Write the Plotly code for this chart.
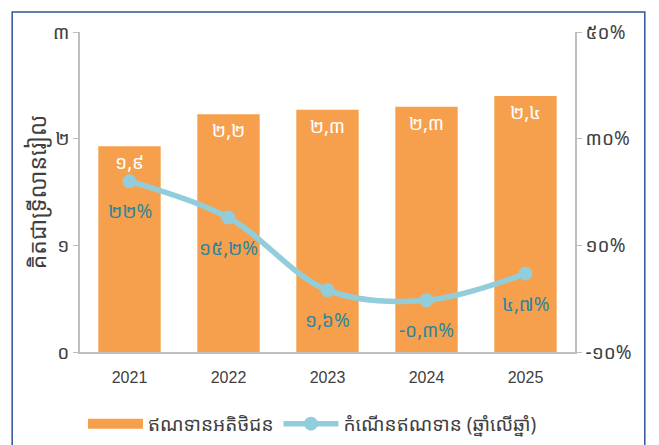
import plotly.graph_objects as go

years = [2021, 2022, 2023, 2024, 2025]
year_labels = ["2021", "2022", "2023", "2024", "2025"]
credit = [1.93, 2.23, 2.27, 2.30, 2.40]
credit_labels = ["១,៩", "២,២", "២,៣", "២,៣", "២,៤"]
growth = [22.0, 15.2, 1.6, -0.3, 4.7]
growth_labels = ["២២%", "១៥,២%", "១,៦%", "-០,៣%", "៤,៧%"]
left_ticks = [0, 1, 2, 3]
left_ticktext = ["០", "១", "២", "៣"]
right_ticks = [-10, 10, 30, 50]
right_ticktext = ["-១០%", "១០%", "៣០%", "៥០%"]

KH = "Noto Sans Khmer, Khmer OS, Khmer OS System, Noto Sans, sans-serif"
bar_color = "#F6A04D"
line_color = "#92CDDC"
label_color = "#31849B"
axis_color = "#BFBFBF"
text_color = "#404040"

fig = go.Figure()
fig.add_trace(go.Bar(
    x=years, y=credit, name="ឥណទានអតិថិជន", showlegend=False,
    marker=dict(color=bar_color, line=dict(width=0)),
    text=credit_labels, textposition="inside", insidetextanchor="end",
    textfont=dict(color="white", size=19, family=KH),
    width=0.63, yaxis="y",
))
# legend swatch for the bars (wide rectangle like the reference)
fig.add_trace(go.Scatter(
    x=[None], y=[None], name="ឥណទានអតិថិជន", mode="lines",
    line=dict(color=bar_color, width=16), yaxis="y",
))
fig.add_trace(go.Scatter(
    x=years, y=growth, name="កំណើនឥណទាន (ឆ្នាំលើឆ្នាំ)",
    mode="lines+markers", yaxis="y2",
    line=dict(color=line_color, width=5.5, shape="spline", smoothing=1),
    marker=dict(color=line_color, size=14),
))
for x, y, t in zip(years, growth, growth_labels):
    fig.add_annotation(x=x, y=y, xref="x", yref="y2", text=t, showarrow=False,
                       yshift=-30, font=dict(color=label_color, size=19, family=KH))

fig.update_layout(
    width=659, height=445,
    margin=dict(l=72, r=92, t=24, b=101, autoexpand=False),
    plot_bgcolor="white", paper_bgcolor="white",
    showlegend=True,
    legend=dict(orientation="h", x=0.006, xanchor="left", y=-0.165, yanchor="top",
                itemwidth=55,
                font=dict(size=19, family=KH, color=text_color)),
    xaxis=dict(type="linear", range=[2020.5, 2025.5], tickvals=years, ticktext=year_labels,
               showline=True, linecolor=axis_color, linewidth=1.5, ticks="",
               showgrid=False, zeroline=False, automargin=False, ticklabelstandoff=10,
               tickfont=dict(size=16, color=text_color, family="Liberation Sans, Arial")),
    yaxis=dict(range=[0, 3], tickvals=left_ticks, ticktext=left_ticktext,
               showgrid=False, zeroline=False, showline=True, linecolor=axis_color,
               linewidth=1.5, ticks="outside", ticklen=5, tickcolor=axis_color,
               automargin=False,
               tickfont=dict(size=19, color=text_color, family=KH),
               title=dict(text="គិតជាទ្រីលានរៀល", font=dict(size=23, color=text_color, family=KH), standoff=0)),
    yaxis2=dict(range=[-10, 50], tickvals=right_ticks, ticktext=right_ticktext,
                overlaying="y", side="right", showgrid=False, zeroline=False,
                showline=True, linecolor=axis_color, linewidth=1.5,
                ticks="outside", ticklen=5, tickcolor=axis_color, automargin=False,
                tickfont=dict(size=19, color=text_color, family=KH)),
    shapes=[dict(type="rect", xref="paper", yref="paper",
                 x0=-0.137, x1=1.141, y0=-0.35, y1=1.0625,
                 line=dict(color="#2F5597", width=1.5), fillcolor="rgba(0,0,0,0)",
                 layer="above")],
)
fig.write_html("out.html")
